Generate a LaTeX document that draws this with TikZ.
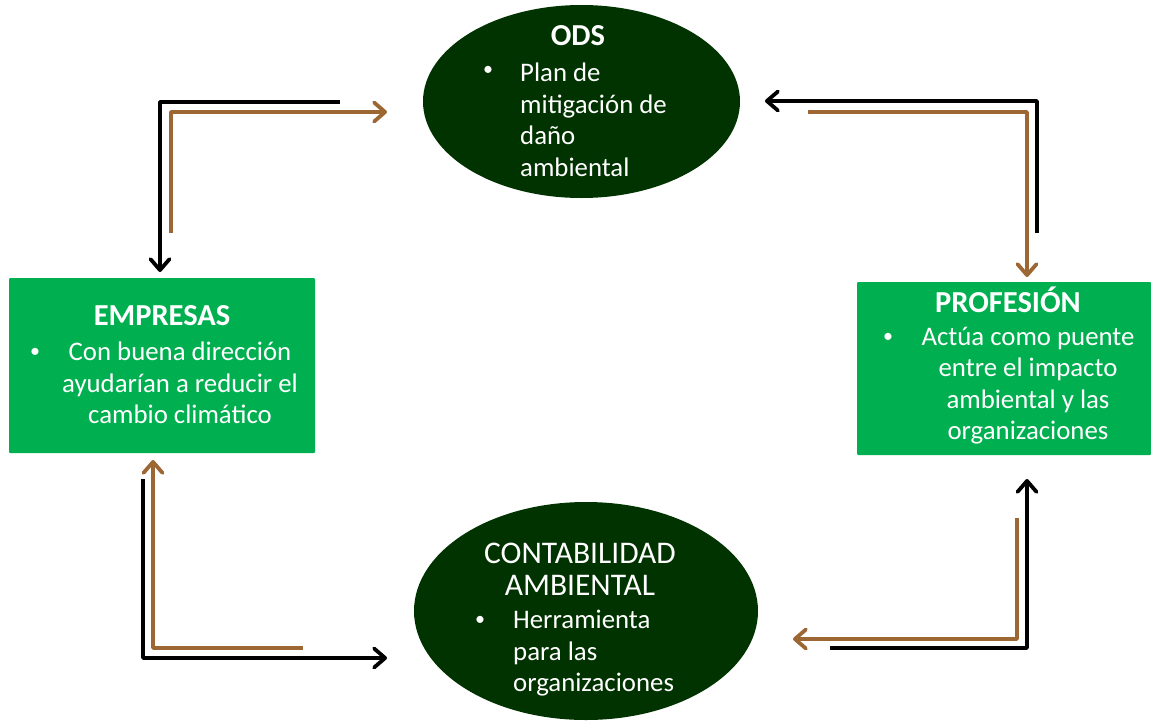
\documentclass[tikz,border=0pt]{standalone}
\usepackage{fontspec}
\setmainfont{Carlito}
\usetikzlibrary{shapes.geometric,arrows.meta}
\definecolor{dkgreen}{HTML}{003300}
\definecolor{ltgreen}{HTML}{00B050}
\definecolor{brownarr}{RGB}{157,103,52}
\newcommand{\fbody}{\fontsize{26.8}{31.5}\selectfont}
\newcommand{\ftitle}{\fontsize{31.5}{32}\selectfont}
\newcommand{\fbold}{\fontsize{30.5}{32}\selectfont\bfseries}
\begin{document}
\begin{tikzpicture}[x=1pt,y=-1pt,
  txt/.style={text=white, inner sep=0pt, font=\fbody},
  ttl/.style={text=white, inner sep=0pt, font=\ftitle, anchor=base},
  bul/.style={text=white, inner sep=0pt, font=\fontsize{20}{20}\selectfont},
  arr/.style={line width=3.8pt, line join=round, -{Straight Barb[length=11pt,width=19pt,line join=round,line cap=round]}},
  blk/.style={arr, draw=black},
  brn/.style={arr, draw=brownarr},
  ell/.style={ellipse, fill=dkgreen, inner sep=0pt},
  box/.style={rectangle, fill=ltgreen, inner sep=0pt, rounded corners=1pt}]
\useasboundingbox (0,0) rectangle (1151,723);

% shapes
\node[ell, minimum width=317pt, minimum height=193pt] (ods) at (581.5,101.5) {};
\node[ell, minimum width=344pt, minimum height=218pt] (cont) at (586,611) {};
\node[box, minimum width=306pt, minimum height=175pt] (emp) at (162,365.5) {};
\node[box, minimum width=294pt, minimum height=173pt] (prof) at (1004,368.5) {};

% ODS text
\node[ttl, font=\fbold] (odst) at (578,45) {ODS};
\node[bul] (odsb) at (488,71) {•};
\node[txt, anchor=north west, align=left] (odsx) at (520,61.5)
  {\rule{0pt}{20pt}Plan de\\mitigación de\\daño\\ambiental};

% CONTABILIDAD text
\node[ttl] (contt1) at (580,563) {CONTABILIDAD};
\node[ttl] (contt2) at (580,595) {AMBIENTAL};
\node[bul] (contb) at (480,621) {•};
\node[txt, anchor=north west, align=left] (contx) at (513,608.3)
  {\rule{0pt}{20pt}Herramienta\\para las\\organizaciones};

% EMPRESAS text
\node[ttl, font=\fbold] (empt) at (162,325) {EMPRESAS};
\node[bul] (empb) at (35,353) {•};
\node[txt, anchor=north, align=center] (empx) at (180,340.7)
  {\rule{0pt}{20pt}Con buena dirección\\ayudarían a reducir el\\cambio climático};

% PROFESION text
\node[ttl, font=\fbold] (proft) at (1008,312.5) {PROFESIÓN};
\node[bul] (profb) at (888,338) {•};
\node[txt, anchor=north, align=center] (profx) at (1028,325)
  {\rule{0pt}{20pt}Actúa como puente\\entre el impacto\\ambiental y las\\organizaciones};

% arrow end points
\coordinate (a1s) at (340,102);  \coordinate (a1e) at (160,272);
\coordinate (a2s) at (171,233);  \coordinate (a2e) at (387,112);
\coordinate (a3s) at (1037,233); \coordinate (a3e) at (765,101);
\coordinate (a4s) at (808,112);  \coordinate (a4e) at (1027,277);
\coordinate (a5s) at (303,648);  \coordinate (a5e) at (153,460);
\coordinate (a6s) at (143,479);  \coordinate (a6e) at (387,658);
\coordinate (a7s) at (830,648);  \coordinate (a7e) at (1027,479);
\coordinate (a8s) at (1017,518); \coordinate (a8e) at (793,639);

\draw[blk] (a1s) -| (a1e);
\draw[brn] (a2s) |- (a2e);
\draw[blk] (a3s) |- (a3e);
\draw[brn] (a4s) -| (a4e);
\draw[brn] (a5s) -| (a5e);
\draw[blk] (a6s) |- (a6e);
\draw[blk] (a7s) -| (a7e);
\draw[brn] (a8s) |- (a8e);
\end{tikzpicture}
\end{document}
